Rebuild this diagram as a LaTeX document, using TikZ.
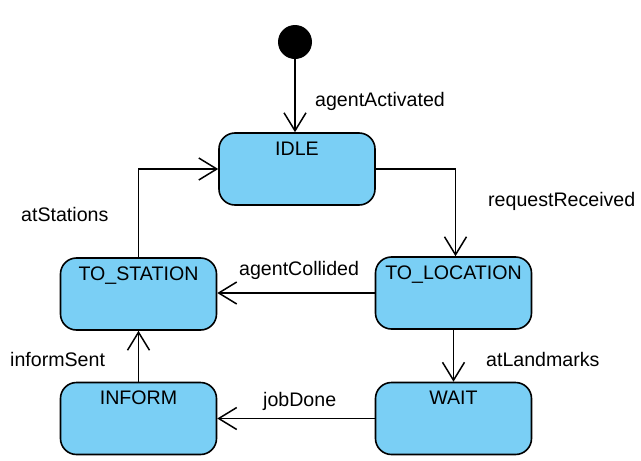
\documentclass[tikz,border=0pt]{standalone}
\usepackage{fontspec}
\setmainfont{Liberation Sans}
\usetikzlibrary{arrows.meta}
\definecolor{statefill}{RGB}{122,207,245}
\tikzset{
  x=1pt, y=-1pt,
  state/.style={draw=black, fill=statefill, line width=1.6pt, rounded corners=16pt,
    minimum width=156pt, minimum height=72pt, inner sep=0pt},
  stname/.style={anchor=base, inner sep=0pt, font=\fontsize{19.6}{22}\selectfont},
  elabel/.style={anchor=base west, inner sep=0pt, font=\fontsize{19.6}{22}\selectfont},
  trans/.style={draw=black, line width=1.6pt, -{Straight Barb[length=18pt,width=22pt,line width=1.5pt]}},
}
\begin{document}
\begin{tikzpicture}
\useasboundingbox (0,0) rectangle (641,461);
\node[circle, fill=black, minimum size=34pt, inner sep=0pt] (init) at (295,42) {};
\node[state] (idle) at (297,169) {};
\node[state] (tostation) at (138.5,294) {};
\node[state] (tolocation) at (453.5,293) {};
\node[state] (inform) at (138.5,418.5) {};
\node[state] (wait) at (453.5,418.5) {};
\node[stname] (idleL) at ([yshift=-23pt]idle.north) {IDLE};
\node[stname] (tostationL) at ([yshift=-23pt]tostation.north) {TO\_STATION};
\node[stname] (tolocationL) at ([yshift=-23pt]tolocation.north) {TO\_LOCATION};
\node[stname] (informL) at ([yshift=-23pt]inform.north) {INFORM};
\node[stname] (waitL) at ([yshift=-23pt]wait.north) {WAIT};
\draw[trans] (init.south) -- (init.south |- idle.north);
\draw[trans] (idle.east) -| ([xshift=2pt]tolocation.north);
\draw[trans] (tostation.north) |- (idle.west);
\draw[trans] (tolocation.west) -- (tolocation.west -| tostation.east);
\draw[trans] (tolocation.south) -- (wait.north);
\draw[trans] (wait.west) -- (inform.east);
\draw[trans] (inform.north) -- (tostation.south);
\node[elabel] (l1) at (315,106) {agentActivated};
\node[elabel] (l2) at (488,206) {requestReceived};
\node[elabel] (l3) at (21,221) {atStations};
\node[elabel] (l4) at (239,275) {agentCollided};
\node[elabel] (l5) at (10,366) {informSent};
\node[elabel] (l6) at (486,366) {atLandmarks};
\node[elabel] (l7) at (263,406) {jobDone};
\end{tikzpicture}
\end{document}
